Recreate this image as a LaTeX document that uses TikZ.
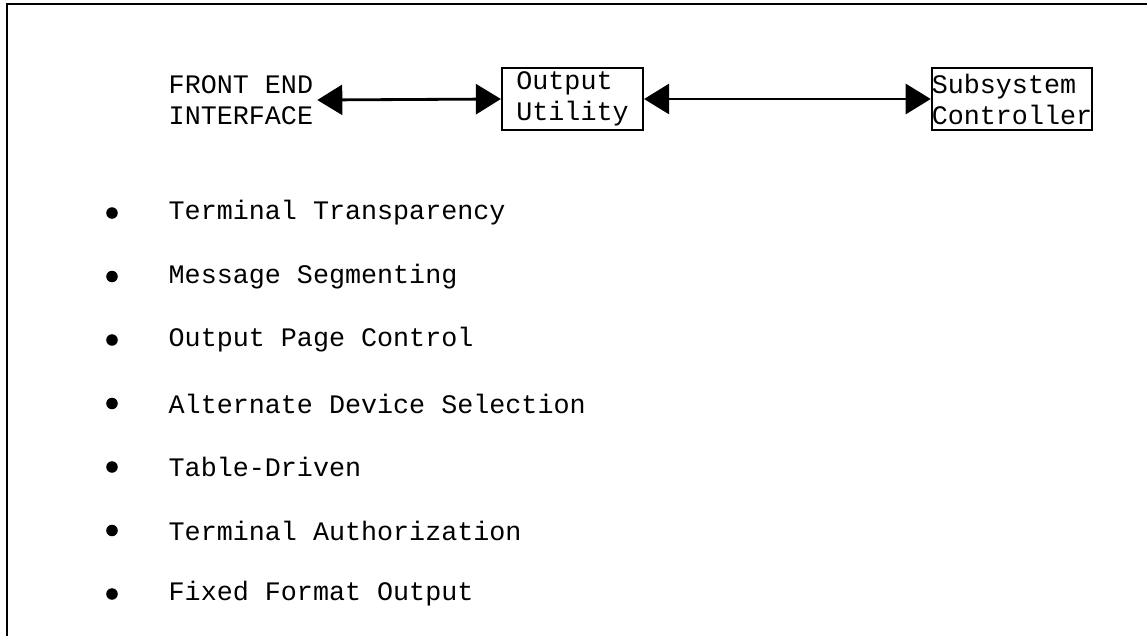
\documentclass[tikz,border=0pt]{standalone}
\usepackage{fontspec}
\setmonofont{Liberation Mono}
\usepackage{tikz}
\usetikzlibrary{arrows.meta}

\begin{document}
\begin{tikzpicture}[x=0.01cm,y=-0.01cm,
  every node/.style={font=\ttfamily\fontsize{7.6}{8.8}\selectfont},
  blockbox/.style={draw,line width=0.6pt,align=left,minimum height=0.62cm,inner ysep=0pt},
  item/.style={anchor=west,inner sep=0pt},
  dot/.style={circle,fill,inner sep=0pt,minimum size=0.115cm},
  link/.style={line width=0.8pt,{Triangle[length=0.25cm,width=0.3cm]}-{Triangle[length=0.25cm,width=0.3cm]}}]
\useasboundingbox (0,0) rectangle (1147,636);

\draw[line width=0.6pt] (7,636) -- (7,4) -- (1147,4);

\node[anchor=west,align=left,inner xsep=1pt] (fe) at (164.5,100) {FRONT END\\INTERFACE};

\node[blockbox,minimum width=1.41cm,inner xsep=0pt] (out) at (572.5,99) {Output\\Utility};
\node[blockbox,minimum width=1.60cm,inner xsep=0pt] (sub) at (1012,99) {Subsystem\\Controller};

\draw[link] (fe.east) -- (out.west);
\draw[link] (out.east) -- (sub.west);

\node[dot] (b1) at (112,213) {};
\node[item] (t1) at (168,213) {Terminal Transparency};
\node[dot] (b2) at (112,276.5) {};
\node[item] (t2) at (168,276.5) {Message Segmenting};
\node[dot] (b3) at (112,340) {};
\node[item] (t3) at (168,340) {Output Page Control};
\node[dot] (b4) at (112,403.5) {};
\node[item] (t4) at (168,403.5) {Alternate Device Selection};
\node[dot] (b5) at (112,467) {};
\node[item] (t5) at (168,467) {Table-Driven};
\node[dot] (b6) at (112,530.5) {};
\node[item] (t6) at (168,530.5) {Terminal Authorization};
\node[dot] (b7) at (112,594) {};
\node[item] (t7) at (168,594) {Fixed Format Output};

\end{tikzpicture}
\end{document}
